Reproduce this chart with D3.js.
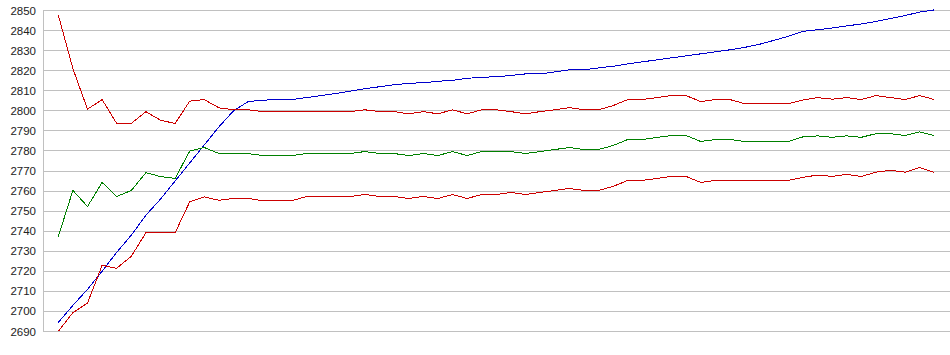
<!DOCTYPE html>
<html>
<head>
<meta charset="utf-8">
<script src="https://cdn.jsdelivr.net/npm/d3@7"></script>
<style>
  body { margin: 0; background: #fff; }
  svg { display: block; }
</style>
</head>
<body>
<svg id="chart"></svg>
<script>
// y tick values
const yTicks = [2690, 2700, 2710, 2720, 2730, 2740, 2750, 2760, 2770, 2780, 2790, 2800, 2810, 2820, 2830, 2840, 2850];

// blue series
const blueValues = [
  2694.5, 2703, 2711, 2720, 2729.5, 2738, 2748, 2756, 2765, 2774,
  2783, 2792, 2800, 2804.6, 2805.3, 2805.6, 2805.6, 2806.6, 2807.6, 2808.6,
  2809.8, 2811, 2812, 2813, 2813.7, 2814, 2814.7, 2815.2, 2816.2, 2816.7,
  2817, 2817.6, 2818.4, 2818.4, 2819.4, 2820.4, 2820.4, 2821.4, 2822.2, 2823.4,
  2824.4, 2825.4, 2826.4, 2827.4, 2828.4, 2829.4, 2830.4, 2831.6, 2833.1, 2835.1,
  2837.1, 2839.6, 2840.4, 2841.3, 2842.3, 2843.3, 2844.5, 2846, 2847.5, 2849.2,
  2850.3
];

// upper red series
const upperValues = [
  2847.7, 2821, 2800.8, 2805.6, 2793.7, 2793.7, 2799.6, 2795.3, 2793.7, 2804.8,
  2805.6, 2801.5, 2800.5, 2800.5, 2799.6, 2799.6, 2799.6, 2799.6, 2799.6, 2799.6,
  2799.6, 2800.5, 2799.6, 2799.6, 2798.5, 2799.6, 2798.5, 2800.5, 2798.5, 2800.5,
  2800.5, 2799.6, 2798.5, 2799.6, 2800.5, 2801.6, 2800.5, 2800.5, 2802.6, 2805.6,
  2805.6, 2806.6, 2807.6, 2807.6, 2804.6, 2805.6, 2805.6, 2803.6, 2803.6, 2803.6,
  2803.6, 2805.4, 2806.6, 2805.8, 2806.6, 2805.6, 2807.6, 2806.6, 2805.6, 2807.6,
  2805.6
];

// green series
const middleValues = [
  2737.3, 2760.3, 2752.3, 2764.3, 2757.3, 2760.3, 2769.2, 2767.2, 2766.3, 2779.9,
  2781.7, 2778.7, 2778.7, 2778.7, 2777.7, 2777.7, 2777.7, 2778.7, 2778.7, 2778.7,
  2778.7, 2779.7, 2778.7, 2778.7, 2777.7, 2778.7, 2777.7, 2779.7, 2777.7, 2779.7,
  2779.7, 2779.7, 2778.7, 2779.7, 2780.7, 2781.7, 2780.7, 2780.7, 2782.7, 2785.7,
  2785.7, 2786.7, 2787.7, 2787.7, 2784.7, 2785.7, 2785.7, 2784.7, 2784.7, 2784.7,
  2784.7, 2787, 2787.5, 2786.8, 2787.5, 2786.8, 2788.6, 2788.6, 2787.7, 2789.5,
  2787.7
];

// lower red series
const lowerValues = [
  2690.1, 2699.4, 2704.2, 2723, 2721.5, 2727.5, 2739.2, 2739.2, 2739.2, 2754.6,
  2757.1, 2755.4, 2756.3, 2756.3, 2755.2, 2755.2, 2755.2, 2757.3, 2757.3, 2757.3,
  2757.3, 2758.3, 2757.3, 2757.3, 2756.3, 2757.3, 2756.3, 2758.3, 2756.3, 2758.3,
  2758.3, 2759.3, 2758.3, 2759.3, 2760.3, 2761.3, 2760.3, 2760.3, 2762.3, 2765.3,
  2765.3, 2766.3, 2767.3, 2767.3, 2764.3, 2765.3, 2765.3, 2765.3, 2765.3, 2765.3,
  2765.3, 2766.8, 2768, 2767.3, 2768.3, 2767.3, 2769.4, 2770.4, 2769.4, 2771.7,
  2769.3
];

const series = [
  { name: "blue", values: blueValues, color: "#0000cc" },
  { name: "upper", values: upperValues, color: "#cc0000" },
  { name: "middle", values: middleValues, color: "#008000" },
  { name: "lower", values: lowerValues, color: "#cc0000" }
];

const width = 950, height = 355;
const svg = d3.select("#chart").attr("width", width).attr("height", height);

const idx = d3.range(blueValues.length);
const x = d3.scalePoint().domain(idx).range([58.3, 934.3]);
const y = d3.scaleLinear().domain([2690, 2850]).range([331.5, 10.5]);

// gridlines
svg.append("g")
    .selectAll("line")
    .data(yTicks)
    .enter()
    .append("line")
    .attr("x1", 43)
    .attr("x2", width)
    .attr("y1", d => Math.round(y(d) - 0.5) + 0.5)
    .attr("y2", d => Math.round(y(d) - 0.5) + 0.5)
    .attr("stroke", "#c0c0c0")
    .attr("stroke-width", 1);

// left axis line
svg.append("line")
    .attr("x1", 43.5).attr("x2", 43.5)
    .attr("y1", Math.round(y(2850) - 0.5) + 0.5)
    .attr("y2", Math.round(y(2690) - 0.5) + 0.5)
    .attr("stroke", "#c0c0c0");

// y labels
svg.append("g")
    .selectAll("text")
    .data(yTicks)
    .enter()
    .append("text")
    .attr("x", 36)
    .attr("y", d => y(d))
    .attr("dy", "0.35em")
    .attr("text-anchor", "end")
    .style("font-family", "Arial, 'Liberation Sans', sans-serif")
    .style("font-size", "11.5px")
    .style("fill", "#222")
    .text(d => d);

const line = d3.line()
    .x((d, i) => x(i))
    .y(d => y(d));

series.forEach(s => {
    svg.append("path")
        .datum(s.values)
        .attr("fill", "none")
        .attr("stroke", s.color)
        .attr("stroke-width", 1)
        .attr("shape-rendering", "crispEdges")
        .attr("d", line);
});
</script>
</body>
</html>
